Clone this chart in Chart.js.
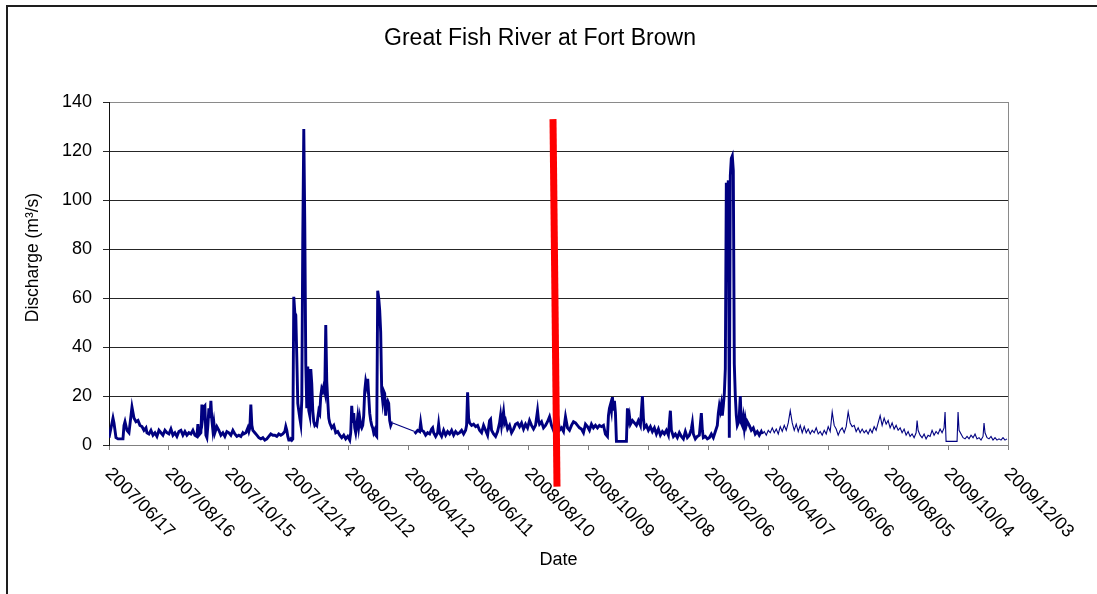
<!DOCTYPE html>
<html>
<head>
<meta charset="utf-8">
<script src="https://cdn.jsdelivr.net/npm/chart.js@4.4.1/dist/chart.umd.min.js"></script>
<style>
  html, body { margin: 0; padding: 0; background: #fff; overflow: hidden; }
  #wrap { position: relative; width: 1097px; height: 594px; }
  #frame {
    position: absolute; left: 6px; top: 5px; width: 1200px; height: 700px;
    border-left: 2px solid #1e1e1e; border-top: 2px solid #1e1e1e;
    pointer-events: none;
  }
  canvas { position: absolute; left: 0; top: 0; }
</style>
</head>
<body>
<div id="wrap">
  <canvas id="chart" width="1097" height="594"></canvas>
  <div id="frame"></div>
</div>
<script>
// Daily discharge, Great Fish River at Fort Brown (days counted from 2007/06/17)
const flowDays = [
  0,1,3,4,5,7,9,12,14,15,16,18,20,22,23,25,27,29,31,33,35,37,38,40,42,44,46,48,50,52,54,56,58,60,62,64,66,68,70,72,74,76,78,80,82,84,86,88,89,90,92,93,94,95,96,97,98,99,100,101,102,103,104,105,106,108,110,112,114,116,118,120,122,124,126,128,130,132,134,135,137,139,140,141,142,143,144,146,148,150,152,154,156,158,160,162,164,166,168,170,172,174,176,177,178,179,180,181,182,183,184,
  185,186,187,188,189,190,191,192,193,194,195,196,197,198,199,200,201,202,203,204,205,206,207,208,209,210,211,212,213,214,215,216,217,218,219,220,221,223,225,227,229,231,233,235,237,239,241,242,243,244,245,246,247,248,249,250,251,252,253,254,255,256,257,258,259,260,261,262,263,264,265,266,267,268,269,270,271,272,273,274,275,276,277,278,279,280,281,282,283,284,
  306,307,309,311,312,313,315,317,319,321,323,324,325,327,329,330,331,333,335,337,339,341,343,345,347,349,351,353,355,357,358,359,360,361,363,365,367,369,371,373,375,377,379,381,382,383,385,387,389,391,392,393,395,396,397,399,401,403,405,407,409,411,413,415,417,419,421,423,425,427,429,430,431,433,435,437,439,441,443,445,447,449,451,453,455,457,459,461,463,465,467,469,471,473,475,477,479,481,483,485,487,489,491,493,495,497,499,
  500,501,502,503,504,505,506,507,508,510,512,514,516,518,519,520,521,522,524,526,528,530,532,534,535,536,538,540,542,544,546,548,550,552,554,556,558,560,562,563,565,567,569,571,573,575,577,579,581,583,584,585,587,589,591,593,594,595,597,599,601,603,605,607,609,610,611,612,613,614,615,616,617,618,619,620,621,622,623,624,625,626,627,628,629,630,631,632,633,634,635,636,637,638,639,641,643,645,647,649,651,653,654,
  656,658,660,662,664,666,668,670,672,674,676,678,680,682,684,686,688,690,692,694,696,698,700,702,704,706,708,710,712,714,716,718,720,722,724,726,728,730,732,734,736,738,740,742,744,746,748,750,752,754,756,758,760,762,764,766,768,770,772,774,776,778,780,782,784,786,788,790,792,794,796,798,800,802,804,806,808,809,810,812,814,816,818,820,822,824,826,828,830,832,834,836,837,838,841,844,847,849,850,851,853,855,857,859,861,863,865,867,869,871,873,875,876,877,879,881,883,885,887,889,891,893,895,897,899
];
const flowValues = [
  3,3,9,11,9,3,2.5,2.5,2.5,8,9.5,6,5,12,15.5,11,9.5,10,8,7.5,6,7,5,4.5,6,4,5,3.5,6,5,4,6,5,4.5,6.5,4,5,3.5,5.5,6,4,5.5,4,5,4.5,6,4,3.5,8.5,4,5,16.5,12,15.5,16,4,3,8,15,11,18,10,6,9,5,7.5,6,4,5,3.5,5.5,5,4,6,4.5,3.5,4,3.5,5,4.5,5,7,5.5,7,16.5,8,6,5,4,3,2.5,3,2,2.5,3.5,4.5,4,4,3.5,4.5,4,4.5,5.5,7.5,6,3.5,2,2,2.5,2,2.5,
  60.5,54,53,36,17,14,11,8.5,18.5,85,129,90,33,15,32,14,12,31,25,14,9.5,8,8.5,8,11,14,13,20,23,22,24,22,49,26,18,11,9,7,8,5,5.5,4,3,4,2.5,3.5,2,5,16,9,13,7,5,8,11.5,7.5,11,8,7,8,12,22,26,24,27,20,13,10,8,7,5,6,4,3.5,63,60,55,46,22,18,22,21,12,17,18,17,10,8,9,9,
  5.5,5,6,5.5,9,6,5.5,4,5,4.5,6.5,7,5,3.5,5,8.5,5,3.5,6,4,5.5,4.5,6,4,5.5,4.5,5,6,4.5,6,8,21.5,11,9,8,8.5,7.5,8,6,5,8,6,4,10,10.5,6,4.5,3.5,5.5,9,12,8,13.5,9,10,6.5,8,5,6.5,8.5,9,7.5,9,6.5,8.5,7,10,8,6.5,8,14,10,8.5,9.5,7,8,9.5,11.5,8,6,7.5,12,6,7,5.5,11.5,7,6,8,9.5,9,8,7,6.5,5,8.5,7.5,6,8.5,7,8,7,8,7.5,8,4.5,3.5,
  12,15,16.5,14,19.5,14,18,13,1.5,1.5,1.5,1.5,1.5,1.5,15,10,12,8.5,10,9,8,10,8,20,11,7,8,6,7.5,5.5,7,4.5,6.5,4,5.5,4.5,6,4,14,6,3.5,4.5,3,5,3.5,2.5,5.5,3,4,6.5,9,4.5,2.5,3.5,4,13,6,3,3.5,2.5,3,4.5,3,5.5,8,13,16,14,16.5,12,16,21,31,107,100,108,3,110,117,118,112,33,20,12,8,9,12,20,9,8,11,7,10.5,8,9.5,8,6,7,4.5,5.5,4,5.5,4.5,
  5.5,4,6,5,7,5,6.5,4.5,7.5,5.5,8,6,9,14,9,6,8.5,5.5,8,5,7.5,5,6.5,4.5,6,5,7,4.5,5.5,4,6,4.5,7.5,5.5,13.5,8,6.5,4,6,7,5,7.5,13.5,9,7.5,8,5.5,7,5,6.5,5,6,4.5,6.5,5,7.5,6,9,12,8,11,8.5,10,7,9,6.5,8,6,7,5,6.5,4,5.5,3.5,4.5,3,5,10,6,4,3,4.5,2.5,4,3.5,6,4,5.5,4.5,6.5,5,7,13.5,1.5,1.5,1.5,1.5,1.5,13.5,6,4.5,3,2.5,3.5,2.5,4,3,4.5,2.5,3,2,3.5,9,5,3,2.5,3.5,2,3,2,2.5,2,3,2,2.5
];

// Date labels on the time axis, one every 60 days
const dateTicks = [
  '2007/06/17','2007/08/16','2007/10/15','2007/12/14','2008/02/12','2008/04/12',
  '2008/06/11','2008/08/10','2008/10/09','2008/12/08','2009/02/06','2009/04/07',
  '2009/06/06','2009/08/05','2009/10/04','2009/12/03'
];
const tickStepDays = 60;
const yTicks = [0, 20, 40, 60, 80, 100, 120, 140];

// Red marker stroke (day, discharge) endpoints
const markerDays = [444.5, 448.5];
const markerValues = [133, -17];

// Record switches to the thinner logger trace from this day on
const thinFromDay = 654;

const chartTitle = 'Great Fish River at Fort Brown';
const yTitle = 'Discharge (m\u00B3/s)';
const xTitle = 'Date';

const FONT = '"Liberation Sans", Arial, Helvetica, sans-serif';
Chart.defaults.font.family = FONT;
Chart.defaults.color = '#000';

const flowPoints = flowDays.map((d, i) => ({ x: d, y: flowValues[i] }));
const markerPoints = markerDays.map((d, i) => ({ x: d, y: markerValues[i] }));

// Rotated date labels and the vertical axis title
const axisText = {
  id: 'axisText',
  beforeDatasetsDraw(chart) {
    const { ctx, chartArea } = chart;
    const xs = chart.scales.x;
    ctx.save();
    ctx.fillStyle = '#000';
    ctx.font = '18px ' + FONT;
    ctx.textAlign = 'left';
    ctx.textBaseline = 'middle';
    xs.ticks.forEach(t => {
      const px = xs.getPixelForValue(t.value);
      ctx.save();
      ctx.translate(px - 1, chartArea.bottom + 26);
      ctx.rotate(Math.PI / 4);
      ctx.fillText(t.label, 0, 0);
      ctx.restore();
    });
    ctx.save();
    ctx.font = '17.5px ' + FONT;
    ctx.textAlign = 'center';
    ctx.translate(chartArea.left - 76, (chartArea.top + chartArea.bottom) / 2 - 16);
    ctx.rotate(-Math.PI / 2);
    ctx.fillText(yTitle, 0, 0);
    ctx.restore();
    ctx.restore();
  }
};

new Chart(document.getElementById('chart'), {
  type: 'line',
  data: {
    datasets: [
      {
        data: markerPoints,
        borderColor: '#ff0000',
        borderWidth: 7,
        borderCapStyle: 'butt',
        pointRadius: 0,
        clip: false,
        order: 0
      },
      {
        data: flowPoints,
        borderColor: '#000080',
        borderWidth: 2.9,
        borderJoinStyle: 'miter',
        pointRadius: 0,
        tension: 0,
        order: 1,
        segment: {
          borderWidth: c => (c.p0.parsed.x >= thinFromDay || c.p1.parsed.x - c.p0.parsed.x > 10) ? 1.1 : 2.9
        }
      }
    ]
  },
  options: {
    responsive: false,
    devicePixelRatio: 1,
    animation: false,
    layout: { padding: { left: 0, right: 17, top: 0, bottom: 0 } },
    plugins: {
      legend: { display: false },
      tooltip: { enabled: false },
      title: {
        display: true,
        text: chartTitle,
        color: '#000',
        font: { size: 23, weight: 'normal', lineHeight: 1.2 },
        padding: { top: 24.5, bottom: 49.9 }
      }
    },
    scales: {
      x: {
        type: 'linear',
        min: 0,
        max: (dateTicks.length - 1) * tickStepDays,
        ticks: {
          display: false,
          stepSize: tickStepDays,
          maxTicksLimit: 30,
          callback: v => dateTicks[Math.round(v / tickStepDays)]
        },
        grid: { drawOnChartArea: false, drawTicks: true, tickLength: 5, color: '#808080' },
        border: { color: '#808080', width: 1 },
        title: { display: true, text: xTitle, color: '#000', font: { size: 18 }, padding: { top: 0, bottom: 23 } },
        afterFit: s => { s.height = 149; }
      },
      y: {
        min: yTicks[0],
        max: yTicks[yTicks.length - 1],
        afterBuildTicks: s => { s.ticks = yTicks.map(v => ({ value: v })); },
        ticks: { padding: 11, color: '#000', font: { size: 18 } },
        grid: {
          color: c => (c.tick && (c.tick.value === 140 || c.tick.value === 0)) ? '#8a8a8a' : '#262626',
          tickColor: '#262626',
          tickLength: 6,
          lineWidth: 1
        },
        border: { color: '#111', width: 1 },
        afterFit: s => { s.width = 109; }
      },
      y2: {
        position: 'right',
        min: 0,
        max: 140,
        ticks: { display: false },
        grid: { display: false, drawTicks: false },
        border: { color: '#8a8a8a', width: 1 },
        afterFit: s => { s.width = 72; }
      }
    }
  },
  plugins: [axisText]
});
</script>
</body>
</html>
